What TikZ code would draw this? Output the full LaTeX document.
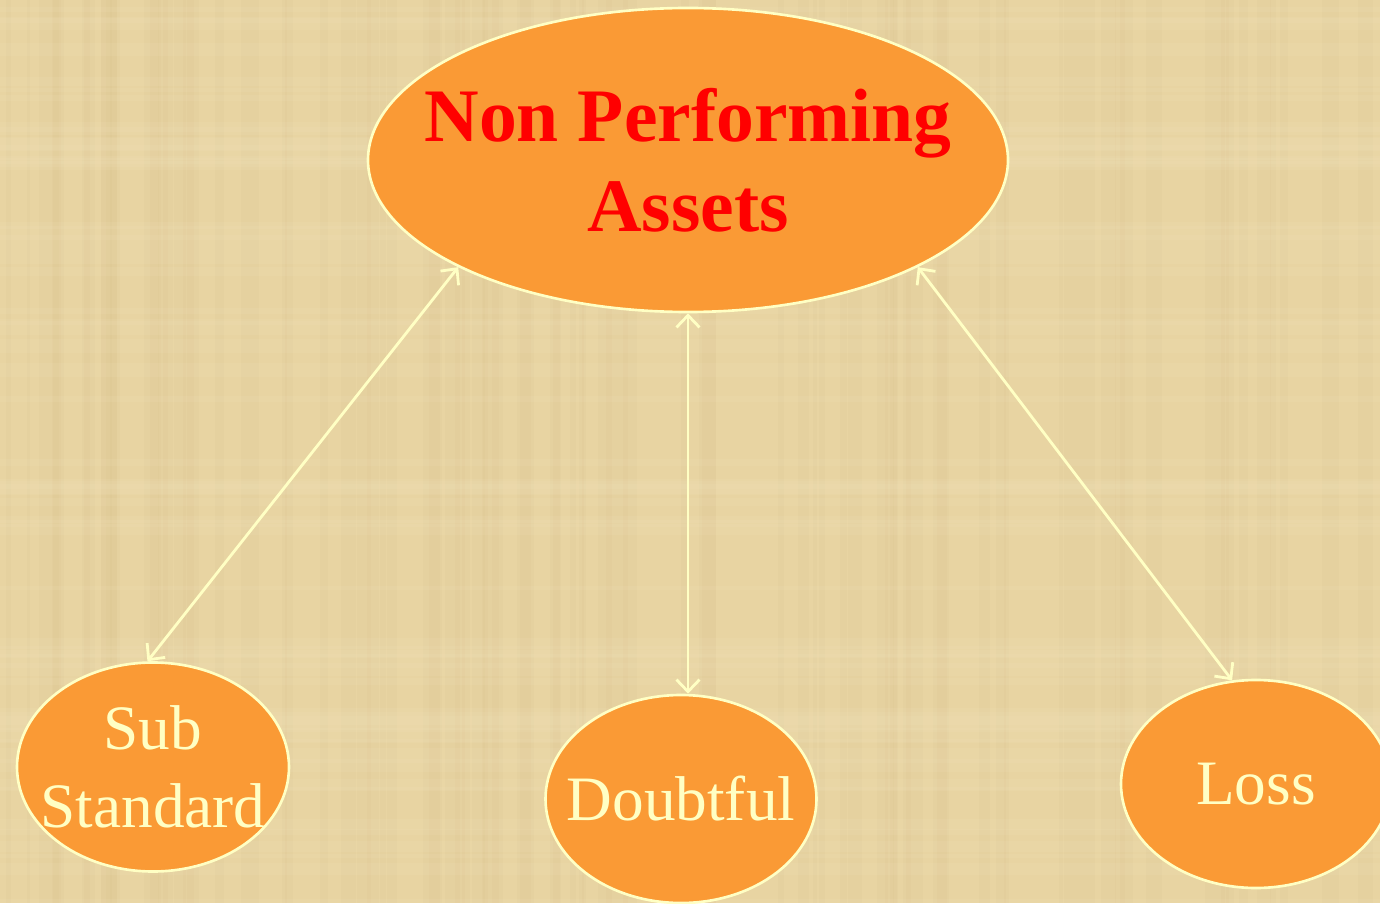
\documentclass[tikz,border=0pt]{standalone}
\usepackage{fontspec}
\usepackage{xcolor}
\usepackage{tikz}
\usetikzlibrary{shapes.geometric,arrows.meta}
\setmainfont{Liberation Serif}
\definecolor{paper}{HTML}{E8D4A2}
\definecolor{paperdark}{HTML}{C9B27A}
\definecolor{paperlight}{HTML}{F4E6C0}
\definecolor{blob}{HTML}{FA9A35}
\definecolor{cream}{HTML}{FFFFC4}

\tikzset{
  asset/.style={ellipse, draw=cream, line width=1.5pt, fill=blob, inner sep=0pt},
  assettext/.style={text=cream, align=center, font=\fontsize{36}{44}\selectfont},
  link/.style={cream, line width=1.6pt, {Straight Barb[length=2.4mm,width=4.6mm]}-{Straight Barb[length=2.4mm,width=4.6mm]}}
}

\begin{document}
\begin{tikzpicture}

    % paper background
    \fill[paper] (0,0) rectangle (27.6,18.06);
    \useasboundingbox (0,0) rectangle (27.6,18.06);
    \pgfmathsetseed{7}
    \foreach \i in {1,...,90}  {   % vertical grain
      \pgfmathsetmacro{\x}{27.6*rnd}
      \pgfmathsetmacro{\w}{0.05+0.3*rnd}
      \fill[paperdark, opacity=0.07] (\x,0) rectangle (\x+\w,18.06);
    }
    \foreach \i in {1,...,60}  {   % horizontal grain
      \pgfmathsetmacro{\y}{18.06*rnd}
      \pgfmathsetmacro{\h}{0.05+0.25*rnd}
      \fill[paperlight, opacity=0.12] (0,\y) rectangle (27.6,\y+\h);
    }

    \node[asset, minimum width=12.8cm, minimum height=6.08cm] (npa) at (13.76,14.86) {};
    \node[asset, minimum width=5.44cm, minimum height=4.18cm] (sub) at (3.06,2.72) {};
    \node[asset, minimum width=5.42cm, minimum height=4.16cm] (dbt) at (13.62,2.08) {};
    \node[asset, minimum width=5.4cm, minimum height=4.16cm] (loss) at (25.12,2.38) {};

    \node[assettext, text=red, font=\fontsize{43}{51}\selectfont\bfseries] (npa-txt) at (npa) {Non Performing\\Assets};
    \node[assettext] (sub-txt) at (sub) {Sub\\Standard};
    \node[assettext] (dbt-txt) at (dbt) {Doubtful};
    \node[assettext] (loss-txt) at (loss) {Loss};

    \draw[link] (npa.205) -- (sub.93);
    \draw[link] (npa.south) -- (npa.south |- dbt.north);
    \draw[link] (npa.335) -- (loss.103.8);

\end{tikzpicture}
\end{document}
